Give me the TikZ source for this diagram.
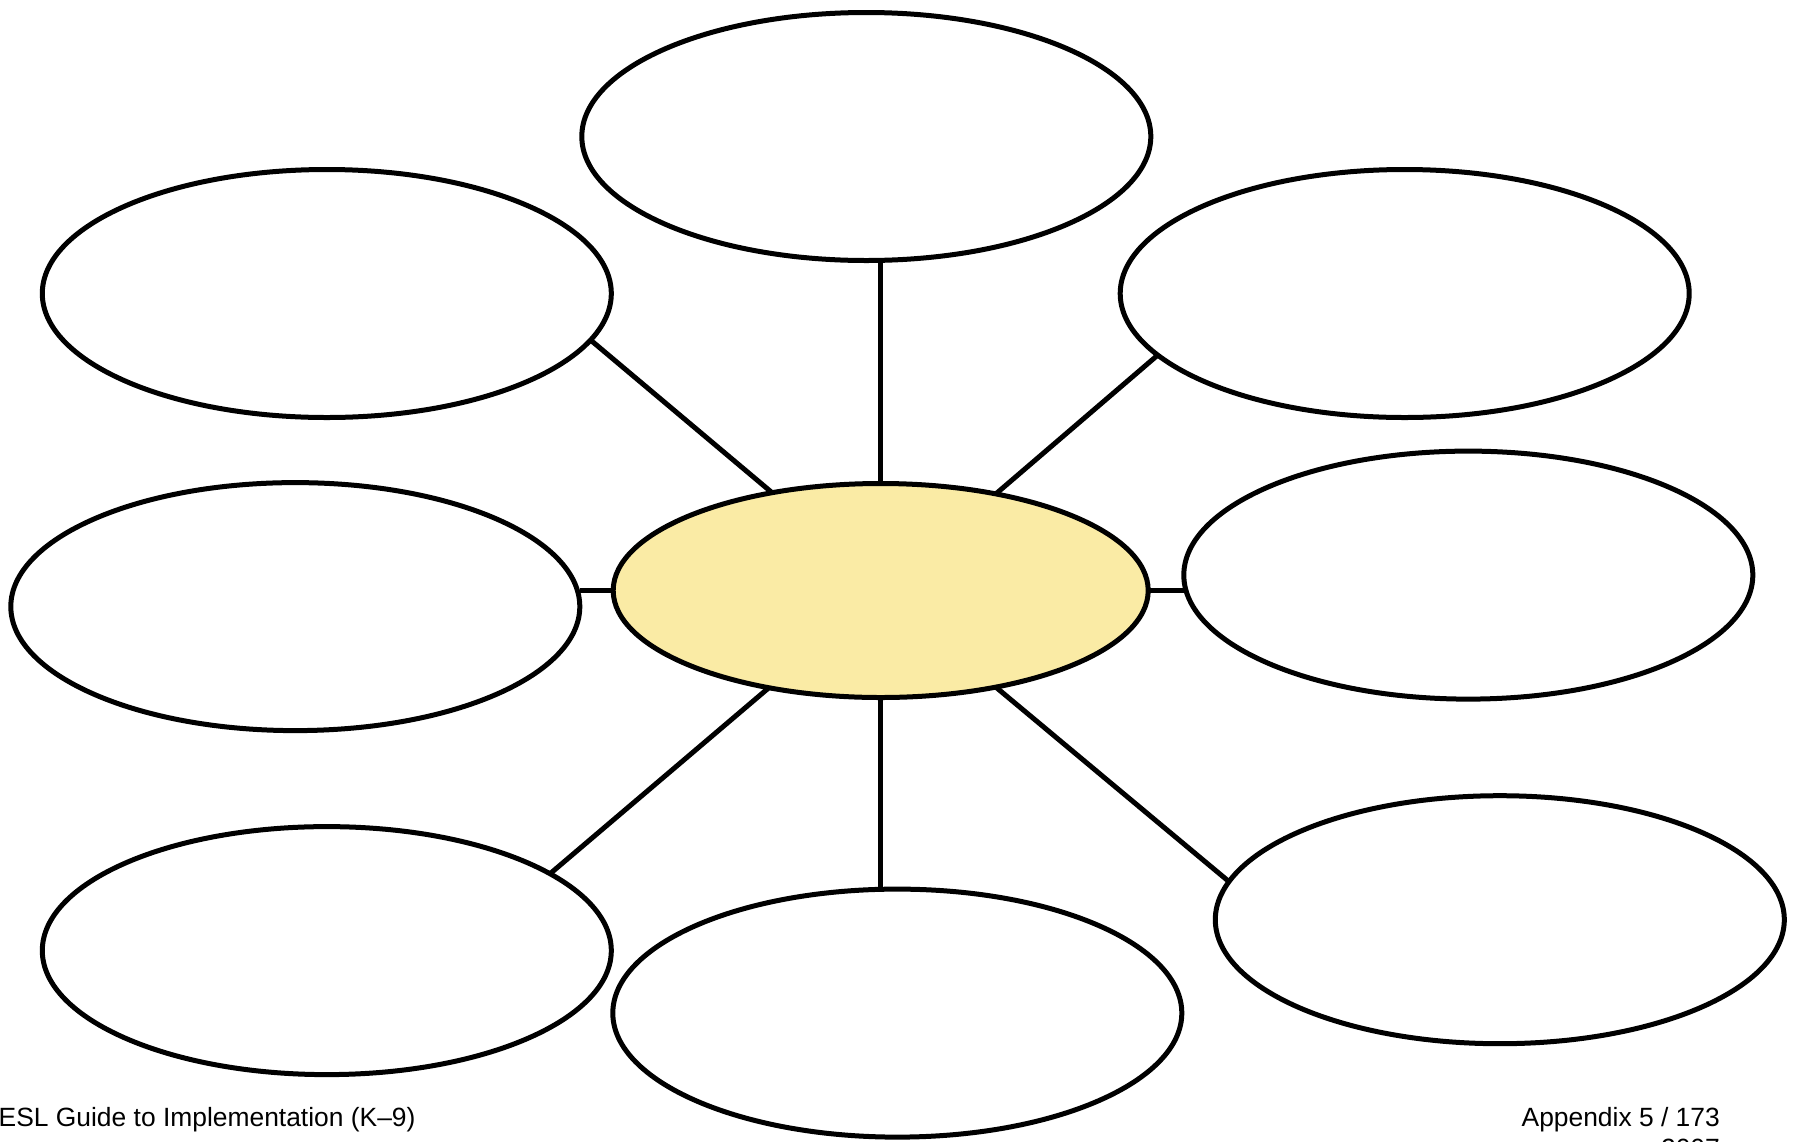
\documentclass[tikz,border=0pt]{standalone}
\usepackage{fontspec}
\setmainfont{Liberation Sans}
\usetikzlibrary{shapes.geometric}
\definecolor{hubfill}{RGB}{250,235,165}
\begin{document}
\begin{tikzpicture}[x=1pt,y=-1pt,
  bub/.style={ellipse, draw=black, line width=5pt, inner sep=0pt, outer sep=0pt,
              minimum width=569pt, minimum height=248pt, fill=white},
  hub/.style={bub, fill=hubfill, minimum width=535pt, minimum height=214pt},
  link/.style={line width=5pt, draw=black},
  foot/.style={inner sep=0pt, font=\fontsize{26.4}{30}\selectfont}]
\useasboundingbox (0,0) rectangle (1798,1141);
\node[hub] (c)  at (880.7,590.5) {};
\node[bub] (t)  at (866.3,136.5) {};
\node[bub] (ul) at (326.8,293.5) {};
\node[bub] (ur) at (1404.7,293.5) {};
\node[bub] (ml) at (295.3,606.6) {};
\node[bub] (mr) at (1468.3,575.1) {};
\node[bub] (ll) at (326.8,950.6) {};
\node[bub] (b)  at (897.3,1013.1) {};
\node[bub] (lr) at (1499.8,919.7) {};
\draw[link] (c.north) -- (c.north |- t.south);
\draw[link] (c.south) -- (c.south |- b.north);
\draw[link] (c.west) -- (c.west -| ml.east);
\draw[link] (c.east) -- (c.east -| mr.west);
\draw[link] (c.138.96) -- (ul.-10.4);
\draw[link] (c.40.5) -- (ur.194.35);
\draw[link] (c.221.04) -- (ll.19.1);
\draw[link] (c.-40.5) -- (lr.172.4);
\node[foot, anchor=base west] (l1) at (-1.5,1126.7) {ESL Guide to Implementation (K–9)};
\node[foot, anchor=base east] (r1) at (1720,1126.7) {Appendix 5 / 173};
\node[foot, anchor=base east] (r2) at (1720,1157) {2007};
\end{tikzpicture}
\end{document}
